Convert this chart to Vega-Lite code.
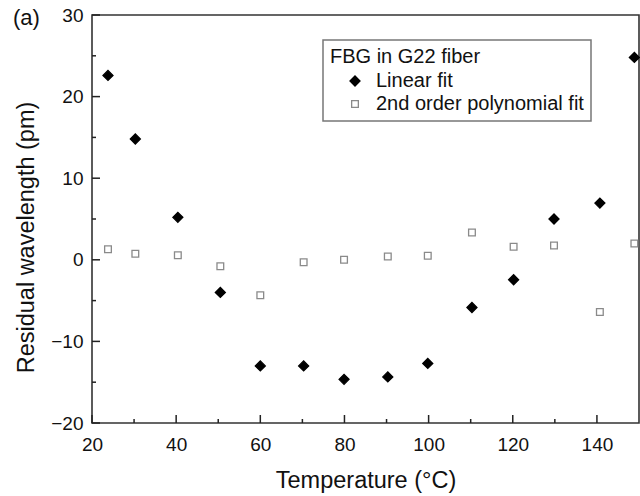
{
  "$schema": "https://vega.github.io/schema/vega-lite/v6.json",
  "width": 547,
  "height": 408,
  "autosize": {"type": "none"},
  "padding": {"left": 92, "top": 15, "right": 1, "bottom": 73},
  "background": "white",
  "title": {"text": "(a)", "anchor": "start", "frame": "group", "dx": -79, "dy": 28, "offset": -13, "baseline": "alphabetic", "font": "Liberation Sans", "fontSize": 22, "fontWeight": "normal", "color": "#111"},
  "datasets": {
    "pts": [
      {"t": 23.8, "r": 22.6, "fit": "Linear fit"},
      {"t": 30.3, "r": 14.8, "fit": "Linear fit"},
      {"t": 40.4, "r": 5.2, "fit": "Linear fit"},
      {"t": 50.5, "r": -4.0, "fit": "Linear fit"},
      {"t": 60.0, "r": -13.0, "fit": "Linear fit"},
      {"t": 70.3, "r": -13.0, "fit": "Linear fit"},
      {"t": 79.9, "r": -14.65, "fit": "Linear fit"},
      {"t": 90.3, "r": -14.35, "fit": "Linear fit"},
      {"t": 99.8, "r": -12.7, "fit": "Linear fit"},
      {"t": 110.3, "r": -5.85, "fit": "Linear fit"},
      {"t": 120.2, "r": -2.45, "fit": "Linear fit"},
      {"t": 129.8, "r": 5.0, "fit": "Linear fit"},
      {"t": 140.7, "r": 6.95, "fit": "Linear fit"},
      {"t": 148.9, "r": 24.8, "fit": "Linear fit"},
      {"t": 23.8, "r": 1.3, "fit": "2nd order polynomial fit"},
      {"t": 30.3, "r": 0.75, "fit": "2nd order polynomial fit"},
      {"t": 40.4, "r": 0.55, "fit": "2nd order polynomial fit"},
      {"t": 50.5, "r": -0.8, "fit": "2nd order polynomial fit"},
      {"t": 60.0, "r": -4.35, "fit": "2nd order polynomial fit"},
      {"t": 70.3, "r": -0.3, "fit": "2nd order polynomial fit"},
      {"t": 79.9, "r": 0.0, "fit": "2nd order polynomial fit"},
      {"t": 90.3, "r": 0.4, "fit": "2nd order polynomial fit"},
      {"t": 99.8, "r": 0.5, "fit": "2nd order polynomial fit"},
      {"t": 110.3, "r": 3.35, "fit": "2nd order polynomial fit"},
      {"t": 120.2, "r": 1.6, "fit": "2nd order polynomial fit"},
      {"t": 129.8, "r": 1.75, "fit": "2nd order polynomial fit"},
      {"t": 140.7, "r": -6.4, "fit": "2nd order polynomial fit"},
      {"t": 148.9, "r": 2.0, "fit": "2nd order polynomial fit"}
    ],
    "xmajor": [{"v": 20}, {"v": 40}, {"v": 60}, {"v": 80}, {"v": 100}, {"v": 120}, {"v": 140}],
    "xminor": [{"v": 30}, {"v": 50}, {"v": 70}, {"v": 90}, {"v": 110}, {"v": 130}],
    "ymajor": [{"v": -20}, {"v": -10}, {"v": 0}, {"v": 10}, {"v": 20}, {"v": 30}],
    "yminor": [{"v": -15}, {"v": -5}, {"v": 5}, {"v": 15}, {"v": 25}]
  },
  "layer": [
    {
      "data": {"name": "pts"},
      "mark": {"type": "point", "strokeWidth": 1.3, "opacity": 1},
      "encoding": {
        "x": {"field": "t", "type": "quantitative", "title": "Temperature (°C)",
          "scale": {"domain": [20, 150], "nice": false, "zero": false},
          "axis": {"orient": "bottom", "values": [20, 40, 60, 80, 100, 120, 140], "domain": false, "ticks": false, "tickSize": 0,
            "labelPadding": 12, "titlePadding": 14}},
        "y": {"field": "r", "type": "quantitative", "title": "Residual wavelength (pm)",
          "scale": {"domain": [-20, 30], "nice": false, "zero": false},
          "axis": {"orient": "left", "values": [-20, -10, 0, 10, 20, 30], "domain": false, "ticks": false, "tickSize": 0,
            "labelPadding": 9, "titlePadding": 12, "titleY": 222}},
        "shape": {"field": "fit", "type": "nominal", "title": "FBG in G22 fiber",
          "scale": {"domain": ["Linear fit", "2nd order polynomial fit"], "range": ["diamond", "square"]}},
        "fill": {"field": "fit", "type": "nominal", "title": "FBG in G22 fiber",
          "scale": {"domain": ["Linear fit", "2nd order polynomial fit"], "range": ["#000000", "#ffffff"]}},
        "stroke": {"field": "fit", "type": "nominal", "title": "FBG in G22 fiber",
          "scale": {"domain": ["Linear fit", "2nd order polynomial fit"], "range": ["#000000", "#8a8a8a"]}},
        "size": {"field": "fit", "type": "nominal", "title": "FBG in G22 fiber",
          "scale": {"domain": ["Linear fit", "2nd order polynomial fit"], "range": [100, 45]}}
      }
    },
    {
      "data": {"name": "xmajor"},
      "mark": {"type": "rule", "color": "#222", "strokeWidth": 1.5, "y2Offset": -8},
      "encoding": {
        "x": {"field": "v", "type": "quantitative", "axis": null},
        "y": {"datum": -20, "type": "quantitative", "axis": null},
        "y2": {"datum": -20}
      }
    },
    {
      "data": {"name": "xminor"},
      "mark": {"type": "rule", "color": "#222", "strokeWidth": 1.5, "y2Offset": -4},
      "encoding": {
        "x": {"field": "v", "type": "quantitative", "axis": null},
        "y": {"datum": -20, "type": "quantitative", "axis": null},
        "y2": {"datum": -20}
      }
    },
    {
      "data": {"name": "ymajor"},
      "mark": {"type": "rule", "color": "#222", "strokeWidth": 1.5, "x2Offset": 8},
      "encoding": {
        "y": {"field": "v", "type": "quantitative", "axis": null},
        "x": {"datum": 20, "type": "quantitative", "axis": null},
        "x2": {"datum": 20}
      }
    },
    {
      "data": {"name": "yminor"},
      "mark": {"type": "rule", "color": "#222", "strokeWidth": 1.5, "x2Offset": 4},
      "encoding": {
        "y": {"field": "v", "type": "quantitative", "axis": null},
        "x": {"datum": 20, "type": "quantitative", "axis": null},
        "x2": {"datum": 20}
      }
    }
  ],
  "resolve": {"axis": {"x": "independent", "y": "independent"}},
  "config": {
    "view": {"stroke": "#333", "strokeWidth": 1.6},
    "axis": {"grid": false,
      "labelFont": "Liberation Sans", "labelFontSize": 19, "labelColor": "#111",
      "titleFont": "Liberation Sans", "titleFontSize": 23.5, "titleFontWeight": "normal", "titleColor": "#111",
      "labelFlush": false, "labelOverlap": false},
    "legend": {"orient": "none", "legendX": 231, "legendY": 25, "strokeColor": "#777", "strokeWidth": 1.5,
      "padding": 7, "titleFont": "Liberation Sans", "titleFontSize": 20, "titleFontWeight": "normal", "titleColor": "#111",
      "labelFont": "Liberation Sans", "labelFontSize": 20, "labelColor": "#111", "labelLimit": 400,
      "symbolOffset": 15, "labelOffset": 11, "rowPadding": 3, "titlePadding": 4, "symbolStrokeWidth": 1.3,
      "labelExpr": "datum.label == '2nd order polynomial fit' ? datum.label + '     ' : datum.label"}
  }
}
